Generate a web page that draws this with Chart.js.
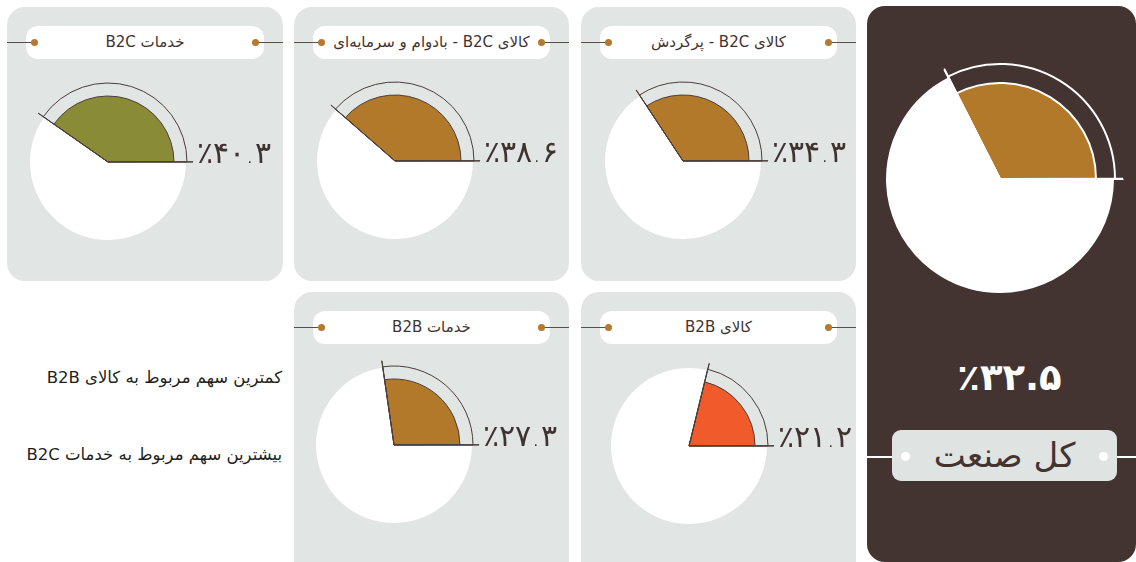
<!DOCTYPE html>
<html lang="fa">
<head>
<meta charset="utf-8">
<script src="https://cdn.jsdelivr.net/npm/chart.js@4.4.1/dist/chart.umd.min.js"></script>
<style>
  html, body { margin: 0; padding: 0; background: #fff; }
  body { position: relative; width: 1136px; height: 562px; overflow: hidden; font-family: "DejaVu Sans", sans-serif; }
  .panel { position: absolute; background: #e1e5e3; border-radius: 18px; }
  .panel.dark { background: #433431; }
  .pill { position: absolute; background: #fff; border-radius: 12px; height: 33px; line-height: 33px; text-align: center; font-size: 15px; color: #3f3331; direction: rtl; }
  .hline { position: absolute; height: 1px; background: #5b4d49; }
  .dot { position: absolute; width: 7px; height: 7px; border-radius: 50%; background: #b5792f; }
  .gauge { position: absolute; }
  .pct { position: absolute; font-size: 30px; color: #3f3331; direction: ltr; white-space: nowrap; font-weight: 300; line-height: 32px; height: 32px; }
  .note { position: absolute; right: 854px; font-size: 16.5px; color: #231f20; direction: rtl; white-space: nowrap; }
  #total { position: absolute; left: 875px; width: 269px; top: 356px; text-align: center; color: #fff; font-size: 37px; letter-spacing: 1.5px; font-weight: bold; direction: ltr; }
  #totalPill { position: absolute; left: 892px; top: 430px; width: 225px; height: 51px; line-height: 51px; background: #dfe4e2; border-radius: 9px; text-align: center; font-size: 34px; color: #433431; direction: rtl; }
  .wline { position: absolute; height: 2px; background: #fff; }
  .wdot { position: absolute; width: 9px; height: 9px; border-radius: 50%; background: #fff; }
</style>
</head>
<body>
<script>
// data
const categories = ['خدمات B2C', 'کالای B2C - بادوام و سرمایه‌ای', 'کالای B2C - پرگردش', 'خدمات B2B', 'کالای B2B'];
const shares = [40.3, 38.6, 34.3, 27.3, 21.2];
const sectorColors = ['#8a8b37', '#b3792b', '#b3792b', '#b3792b', '#f15a2a'];
const totalLabel = 'کل صنعت';
const totalShare = 32.5;
const totalColor = '#b3792b';
const notes = ['کمترین سهم مربوط به کالای B2B', 'بیشترین سهم مربوط به خدمات B2C'];

// layout (panel boxes and gauge centres)
const panels = [
  { x: 7, y: 7, w: 276, h: 274, cx: 108, cy: 162 },
  { x: 294, y: 7, w: 275, h: 274, cx: 395, cy: 161 },
  { x: 581, y: 7, w: 275, h: 274, cx: 683, cy: 161 },
  { x: 294, y: 292, w: 275, h: 300, cx: 394, cy: 445 },
  { x: 581, y: 292, w: 275, h: 300, cx: 689, cy: 446 }
];
const SMALL = { half: 90, disc: 78, sector: 66, outline: 79, tick: 85, line: '#4b3d3a', lw: 1 };
const BIG = { half: 130, disc: 114, sector: 96, outline: 115, tick: 123, line: '#ffffff', lw: 2 };

const faDigits = '۰۱۲۳۴۵۶۷۸۹';
function toFa(v) {
  return '٪' + String(v).replace(/\d/g, d => faDigits[d]);
}

function el(cls, css, text) {
  const d = document.createElement('div');
  if (cls) d.className = cls;
  Object.assign(d.style, css);
  if (text !== undefined) d.textContent = text;
  document.body.appendChild(d);
  return d;
}

function makeGauge(cx, cy, share, color, g) {
  const canvas = document.createElement('canvas');
  canvas.width = g.half * 2;
  canvas.height = g.half * 2;
  canvas.className = 'gauge';
  canvas.style.left = (cx - g.half) + 'px';
  canvas.style.top = (cy - g.half) + 'px';
  document.body.appendChild(canvas);

  const a = share * 3.6;
  const d = 0.15;
  const clear = 'rgba(0,0,0,0)';
  new Chart(canvas, {
    type: 'polarArea',
    data: {
      labels: ['s', 'g', 'e', 'r'],
      datasets: [
        // radial edge lines reaching past the outline
        { data: [g.tick, 0, g.tick, 0], angle: [d, a - 2 * d, d, 360 - a],
          backgroundColor: g.line, borderColor: g.line, borderWidth: [g.lw, 0, g.lw, 0] },
        // outline arc
        { data: [g.outline, 0], angle: [a, 360 - a],
          backgroundColor: clear, borderColor: g.line, borderWidth: [g.lw, 0] },
        // share sector + white remainder
        { data: [g.sector, g.disc], angle: [a, 360 - a],
          backgroundColor: [color, '#ffffff'], borderColor: g.line, borderWidth: [g.lw, 0] }
      ]
    },
    options: {
      responsive: false,
      animation: false,
      events: [],
      layout: { padding: 0 },
      plugins: { legend: { display: false }, tooltip: { enabled: false } },
      scales: {
        r: { display: false, min: 0, max: g.half, startAngle: 90 - a }
      }
    }
  });
}

panels.forEach((p, i) => {
  el('panel', { left: p.x + 'px', top: p.y + 'px', width: p.w + 'px', height: p.h + 'px' });
  const px = p.x + 19, py = p.y + 19, pw = p.w - 38;
  el('pill', { left: px + 'px', top: py + 'px', width: pw + 'px' }, categories[i]);
  const dy = py + 16;
  el('hline', { left: p.x + 'px', top: dy + 'px', width: (px + 9 - p.x) + 'px' });
  el('hline', { left: (px + pw - 9) + 'px', top: dy + 'px', width: (p.x + p.w - (px + pw - 9)) + 'px' });
  el('dot', { left: (px + 5) + 'px', top: (dy - 3) + 'px' });
  el('dot', { left: (px + pw - 12) + 'px', top: (dy - 3) + 'px' });
  makeGauge(p.cx, p.cy, shares[i], sectorColors[i], SMALL);
  el('pct', { left: (p.cx + 89) + 'px', top: (p.cy - 25) + 'px' }, toFa(shares[i]));
});

// total industry panel
el('panel dark', { left: '867px', top: '6px', width: '269px', height: '556px' });
makeGauge(1000, 179, totalShare, totalColor, BIG);
const t = el('', {}, toFa(totalShare));
t.id = 'total';
el('wline', { left: '867px', top: '456px', width: '40px' });
el('wline', { left: '1104px', top: '456px', width: '32px' });
const tp = el('', {}, totalLabel);
tp.id = 'totalPill';
el('wdot', { left: '901px', top: '452px' });
el('wdot', { left: '1099px', top: '452px' });

// notes
el('note', { top: '368px' }, notes[0]);
el('note', { top: '445px' }, notes[1]);
</script>
</body>
</html>
